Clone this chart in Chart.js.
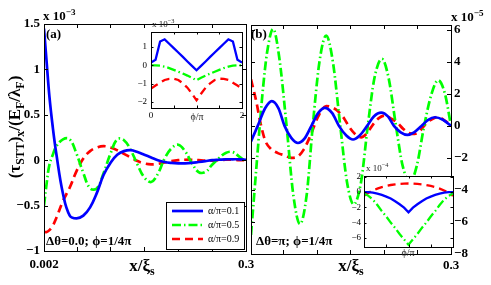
<!DOCTYPE html>
<html>
<head>
<meta charset="UTF-8">
<title>STT x-component vs x/xi_s</title>
<script src="https://cdn.jsdelivr.net/npm/chart.js@4"></script>
<style>
  body { margin: 0; background: #fff; }
  #wrap { position: relative; width: 491px; height: 285px; overflow: hidden; font-family: "Liberation Serif", serif; }
  canvas { position: absolute; }
  .t { position: absolute; white-space: nowrap; font-weight: bold; font-size: 13px; color: #000; line-height: 1; }
  .s { font-weight: normal; font-size: 9px; color: #222; }
  sub, sup { font-size: 70%; line-height: 0; }
  #ytitle { left: 14px; top: 127px; font-size: 17px; transform: translate(-50%, -50%) rotate(-90deg); }
  .xt { font-size: 17px; transform: translateX(-50%); }
</style>
<script>
// panel (a): delta theta = 0
const xA = [0.002, 0.006, 0.01, 0.015, 0.02, 0.03, 0.04, 0.05, 0.06, 0.07, 0.08, 0.09, 0.10,
            0.11, 0.12, 0.13, 0.14, 0.15, 0.16, 0.17, 0.18, 0.19, 0.20, 0.21, 0.22, 0.23,
            0.24, 0.25, 0.26, 0.27, 0.28, 0.29, 0.30];
const blueA = [1.45, 1.07, 0.70, 0.36, 0.08, -0.37, -0.61, -0.64, -0.61, -0.52, -0.36, -0.16, -0.03,
               0.06, 0.10, 0.11, 0.09, 0.06, 0.03, 0.0, -0.02, -0.03, -0.035, -0.035, -0.03, -0.02,
               -0.01, 0.0, 0.005, 0.01, 0.01, 0.01, 0.005];
const greenA = [-0.50, -0.25, -0.05, 0.06, 0.15, 0.23, 0.23, 0.07, -0.14, -0.31, -0.31, -0.14, 0.07,
                0.23, 0.22, 0.11, -0.05, -0.19, -0.24, -0.15, 0.02, 0.13, 0.17, 0.10, -0.03, -0.13,
                -0.13, -0.05, 0.02, 0.08, 0.09, 0.04, -0.02];
const redA = [-0.79, -0.79, -0.77, -0.72, -0.64, -0.45, -0.30, -0.12, 0.02, 0.10, 0.14, 0.155, 0.14,
              0.11, 0.07, 0.03, -0.01, -0.035, -0.045, -0.04, -0.025, -0.01, 0.0, 0.005, 0.005, 0.0,
              -0.005, -0.005, 0.0, 0.005, 0.005, 0.0, 0.0];

// panel (b): delta theta = pi
const xBlueB = [0.002, 0.012, 0.023, 0.033, 0.043, 0.052, 0.062, 0.072, 0.082, 0.092, 0.102, 0.112,
                0.123, 0.133, 0.144, 0.154, 0.164, 0.175, 0.185, 0.196, 0.206, 0.215, 0.225, 0.235,
                0.245, 0.256, 0.266, 0.276, 0.288, 0.300];
const blueB = [-0.97, 0, 1.1, 1.55, 1.1, 0, -0.75, -1.07, -0.78, 0, 0.8, 1.13,
               0.8, 0, -0.6, -0.85, -0.6, 0, 0.59, 0.83, 0.59, 0, -0.4, -0.56,
               -0.4, 0, 0.38, 0.54, 0.38, 0];
const xGreenB = [0.002, 0.010, 0.015, 0.020, 0.026, 0.035, 0.044, 0.055, 0.065, 0.075, 0.085, 0.094,
                 0.104, 0.114, 0.124, 0.135, 0.145, 0.155, 0.166, 0.176, 0.186, 0.197, 0.207, 0.218,
                 0.228, 0.239, 0.249, 0.260, 0.271, 0.281, 0.291, 0.300];
const greenB = [-6.8, -2.6, 0, 2.4, 4.6, 6.05, 4.3, 0, -4.3, -6.13, -4.3, 0,
                4.0, 5.64, 4.0, 0, -3.5, -4.9, -3.5, 0, 3.0, 4.19, 3.0, 0,
                -2.5, -3.5, -2.5, 0, 2.0, 2.85, 2.0, 0];
const xRedB = [0.002, 0.010, 0.015, 0.023, 0.032, 0.042, 0.053, 0.062, 0.072, 0.081, 0.090, 0.102,
               0.114, 0.123, 0.132, 0.141, 0.148, 0.157, 0.166, 0.175, 0.184, 0.193, 0.202, 0.211,
               0.220, 0.229, 0.237, 0.246, 0.255, 0.264, 0.273, 0.281, 0.290, 0.300];
const redB = [2.9, 1.5, 0.4, -0.9, -1.45, -1.7, -1.85, -2.0, -1.9, -1.45, -0.66, 0.58,
              1.24, 1.15, 0.9, 0.45, -0.05, -0.5, -0.72, -0.45, 0.1, 0.5, 0.65, 0.45,
              0.2, -0.2, -0.45, -0.5, -0.25, 0.2, 0.45, 0.56, 0.35, 0.05];

// insets: phi/pi from 0 to 2
const phi = [0, 0.1, 0.2, 0.3, 0.4, 0.5, 0.6, 0.7, 0.8, 0.9, 1.0,
             1.1, 1.2, 1.3, 1.4, 1.5, 1.6, 1.7, 1.8, 1.9, 2.0];
const blueIA = [0.15, 0.3, 1.3, 1.42, 1.18, 0.94, 0.7, 0.46, 0.21, -0.03, -0.27,
                -0.03, 0.21, 0.46, 0.7, 0.94, 1.18, 1.42, 1.3, 0.3, 0.15];
const greenIA = [0, 0, -0.02, -0.07, -0.15, -0.25, -0.35, -0.45, -0.56, -0.68, -0.82,
                 -0.68, -0.56, -0.45, -0.35, -0.25, -0.15, -0.07, -0.02, 0, 0];
const redIA = [-1.27, -1.1, -0.95, -0.8, -0.74, -0.73, -0.8, -0.98, -1.22, -1.55, -1.91,
               -1.55, -1.22, -0.98, -0.8, -0.73, -0.74, -0.8, -0.95, -1.1, -1.27];
const blueIB = [0, -0.02, -0.08, -0.2, -0.38, -0.6, -0.85, -1.2, -1.6, -2.05, -2.65,
                -2.05, -1.6, -1.2, -0.85, -0.6, -0.38, -0.2, -0.08, -0.02, 0];
const greenIB = [-0.2, -0.5, -1.0, -1.7, -2.5, -3.2, -4.0, -4.7, -5.5, -6.2, -6.9,
                 -6.2, -5.5, -4.7, -4.0, -3.2, -2.5, -1.7, -1.0, -0.5, -0.2];
const redIB = [-0.5, -0.1, 0.2, 0.45, 0.65, 0.8, 0.92, 1.0, 1.07, 1.1, 1.12,
               1.1, 1.07, 1.0, 0.92, 0.8, 0.65, 0.45, 0.2, -0.1, -0.5];

// ticks
const xTicks = [0.002, 0.05, 0.1, 0.15, 0.2, 0.25, 0.3];
const xLabelsA = [0.002, 0.3];
const xLabelsB = [0.3];
const yTicksA = [-1, -0.5, 0, 0.5, 1, 1.5];
const yTicksB = [-8, -6, -4, -2, 0, 2, 4, 6];
const phiTicks = [0, 0.5, 1, 1.5, 2];
const phiLabels = [0, 2];
const yTicksIA = [-2, -1, 0, 1];
const yTicksIB = [-6, -4, -2, 0, 2];
const seriesNames = ['α/π=0.1', 'α/π=0.5', 'α/π=0.9'];
</script>
</head>
<body>
<div id="wrap">
  <canvas id="pa" width="262" height="285" style="left:0;top:0"></canvas>
  <canvas id="pb" width="251" height="285" style="left:240px;top:0"></canvas>
  <canvas id="ia" width="125" height="105" style="left:125px;top:20px"></canvas>
  <canvas id="ib" width="125" height="100" style="left:335px;top:165px"></canvas>

  <div class="t" id="ytitle">(τ<sub>STT</sub>)<sub>x</sub>/(E<sub>F</sub>/λ<sub>F</sub>)</div>
  <div class="t" style="left:43px;top:9px">x 10<sup>−3</sup></div>
  <div class="t" style="left:451px;top:10px">x 10<sup>−5</sup></div>
  <div class="t" style="left:46px;top:27px">(a)</div>
  <div class="t" style="left:251px;top:27px">(b)</div>
  <div class="t" style="left:46px;top:234px">Δθ=0.0; ϕ=1/4π</div>
  <div class="t" style="left:256px;top:234px">Δθ=π; ϕ=1/4π</div>
  <div class="t xt" style="left:142px;top:257px">x/ξ<sub>s</sub></div>
  <div class="t xt" style="left:351px;top:257px">x/ξ<sub>s</sub></div>
  <div class="t s" style="left:152px;top:20px">x 10<sup>−3</sup></div>
  <div class="t s" style="left:366px;top:164px">x 10<sup>−4</sup></div>
  <div class="t s xt" style="left:197px;top:112px;font-size:10px">ϕ/π</div>
  <div class="t s xt" style="left:408px;top:248px;font-size:10px">ϕ/π</div>
</div>

<script>
const pts = (xs, ys) => xs.map((x, i) => ({ x: x, y: ys[i] }));
const minus = v => String(v).replace('-', '\u2212');
const bold13 = { family: 'Liberation Serif', weight: 'bold', size: 13 };
const small9 = { family: 'Liberation Serif', size: 9 };

// frame, inward ticks, optional white background and legend
const frame = {
    id: 'frame',
    beforeDatasetsDraw(chart, args, o) {
        if (!o.bg) return;
        const a = chart.chartArea, ctx = chart.ctx;
        ctx.save();
        ctx.fillStyle = o.bg;
        ctx.fillRect(a.left, a.top, a.right - a.left, a.bottom - a.top);
        ctx.restore();
    },
    afterDatasetsDraw(chart, args, o) {
        const ctx = chart.ctx, a = chart.chartArea, sx = chart.scales.x, sy = chart.scales.y;
        const L = o.tick;
        ctx.save();
        ctx.strokeStyle = '#000';
        ctx.lineWidth = 1;
        ctx.beginPath();
        sx.ticks.forEach(t => {
            const p = Math.round(sx.getPixelForValue(t.value)) + 0.5;
            ctx.moveTo(p, a.bottom); ctx.lineTo(p, a.bottom - L);
            ctx.moveTo(p, a.top); ctx.lineTo(p, a.top + L);
        });
        sy.ticks.forEach(t => {
            const p = Math.round(sy.getPixelForValue(t.value)) + 0.5;
            ctx.moveTo(a.left, p); ctx.lineTo(a.left + L, p);
            ctx.moveTo(a.right, p); ctx.lineTo(a.right - L, p);
        });
        ctx.stroke();
        ctx.strokeRect(Math.round(a.left) + 0.5, Math.round(a.top) + 0.5,
                       Math.round(a.right - a.left), Math.round(a.bottom - a.top));
        const lg = o.legend;
        if (lg) {
            ctx.fillStyle = '#fff';
            ctx.fillRect(lg.x, lg.y, lg.w, lg.h);
            ctx.strokeRect(lg.x + 0.5, lg.y + 0.5, lg.w, lg.h);
            chart.data.datasets.forEach((d, i) => {
                const yy = lg.y + 9 + i * 14;
                ctx.setLineDash(d.borderDash || []);
                ctx.strokeStyle = d.borderColor;
                ctx.lineWidth = d.borderWidth;
                ctx.beginPath(); ctx.moveTo(lg.x + 6, yy); ctx.lineTo(lg.x + 37, yy); ctx.stroke();
                ctx.setLineDash([]);
                ctx.fillStyle = '#000';
                ctx.font = '10px "Liberation Serif"';
                ctx.textBaseline = 'middle';
                ctx.fillText(d.label, lg.x + 42, yy);
            });
        }
        ctx.restore();
    }
};

function lines(xs, b, g, r, w, tension, xb, xg, xr) {
    return [
        { label: seriesNames[0], data: pts(xb || xs, b), borderColor: '#0000ff', borderWidth: w, tension: tension },
        { label: seriesNames[1], data: pts(xg || xs, g), borderColor: '#00ff00', borderWidth: w, tension: tension, borderDash: [9, 3, 1.5, 3] },
        { label: seriesNames[2], data: pts(xr || xs, r), borderColor: '#ff0000', borderWidth: w, tension: tension, borderDash: [8, 5] }
    ];
}

function axis(min, max, list, size, show, font, pad, extra) {
    return Object.assign({
        type: 'linear', min: min, max: max,
        afterBuildTicks: s => { s.ticks = list.map(v => ({ value: v })); },
        afterFit: s => { if (s.isHorizontal()) s.height = size; else s.width = size; },
        grid: { display: false, drawTicks: false },
        border: { display: false },
        ticks: { autoSkip: false, maxRotation: 0, padding: pad, font: font, color: '#000',
                 callback: v => (show === null || show.includes(v)) ? minus(v) : '' }
    }, extra || {});
}

function base(padding, frameOpts, scales) {
    return {
        responsive: false, animation: false, devicePixelRatio: 1,
        layout: { padding: padding },
        elements: { point: { radius: 0 } },
        plugins: { legend: { display: false }, tooltip: { enabled: false }, frame: frameOpts },
        scales: scales
    };
}

new Chart(document.getElementById('pa'), {
    type: 'line',
    data: { datasets: lines(xA, blueA, greenA, redA, 2.7, 0.4) },
    options: base({ left: 0, top: 24, right: 16, bottom: 0 },
        { tick: 4, legend: { x: 166, y: 202, w: 78, h: 47 } },
        { x: axis(0.002, 0.3, xTicks, 34, xLabelsA, bold13, 6),
          y: axis(-1, 1.5, yTicksA, 44, null, bold13, 4) }),
    plugins: [frame]
});

const mono = { cubicInterpolationMode: 'monotone' };
const dsB = lines(null, blueB, greenB, redB, 2.7, 0.4, xBlueB, xGreenB, xRedB).map(d => Object.assign(d, mono));
new Chart(document.getElementById('pb'), {
    type: 'line',
    data: { datasets: dsB },
    options: base({ left: 11, top: 25, right: 0, bottom: 0 },
        { tick: 4 },
        { x: axis(0.002, 0.3, xTicks, 31, xLabelsB, bold13, 4),
          y: axis(-8, 6.3, yTicksB, 40, null, bold13, 3, { position: 'right' }) }),
    plugins: [frame]
});

new Chart(document.getElementById('ia'), {
    type: 'line',
    data: { datasets: lines(phi, blueIA, greenIA, redIA, 2.3, 0) },
    options: base({ left: 0, top: 12, right: 8, bottom: 0 },
        { tick: 2.5, bg: '#fff' },
        { x: axis(0, 2, phiTicks, 17, phiLabels, small9, 2),
          y: axis(-2.33, 1.82, yTicksIA, 26, null, small9, 4) }),
    plugins: [frame]
});

new Chart(document.getElementById('ib'), {
    type: 'line',
    data: { datasets: lines(phi, blueIB, greenIB, redIB, 2.3, 0) },
    options: base({ left: 0, top: 11, right: 7, bottom: 0 },
        { tick: 2.5, bg: '#fff' },
        { x: axis(0, 2, phiTicks, 18, [], small9, 2),
          y: axis(-7.2, 2.1, yTicksIB, 29, null, small9, 3) }),
    plugins: [frame]
});
</script>
</body>
</html>
